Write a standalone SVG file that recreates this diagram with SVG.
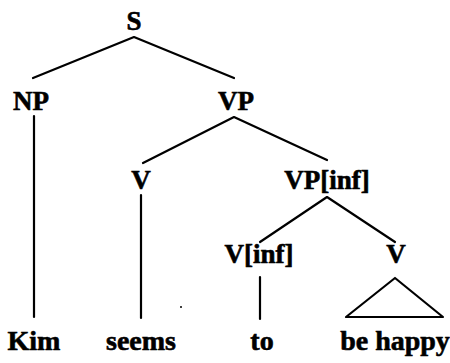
<svg xmlns="http://www.w3.org/2000/svg" width="450" height="363" viewBox="0 0 450 363">
  <style>
    .lbl { font-family: "Liberation Serif", "Times New Roman", serif; font-weight: bold; font-size: 27px; fill: #000; stroke: #000; stroke-width: 0.6; text-anchor: middle; }
    .word { font-family: "Liberation Serif", "Times New Roman", serif; font-weight: bold; font-size: 28px; fill: #000; stroke: #000; stroke-width: 0.6; text-anchor: middle; }
    .edge { stroke: #000; stroke-width: 2.2; fill: none; stroke-linecap: round; stroke-linejoin: round; }
  </style>
  <rect width="450" height="363" fill="#fff"/>

  <!-- tree branches -->
  <g id="connectors">
    <polyline class="edge" points="33,78 134,37 234,78"/>
    <line class="edge" x1="34" y1="116" x2="34" y2="317"/>
    <polyline class="edge" points="143,163 234,117 327,160"/>
    <line class="edge" x1="141" y1="195" x2="141" y2="318"/>
    <polyline class="edge" points="260,242 327,197 395,242"/>
    <line class="edge" x1="260" y1="277" x2="260" y2="319"/>
    <polygon class="edge" points="395,278 346,317 443,317"/>
  </g>

  <!-- category nodes -->
  <g id="node-S"><text class="lbl" x="134" y="30">S</text></g>
  <g id="node-NP"><text class="lbl" x="31" y="110">NP</text></g>
  <g id="node-VP"><text class="lbl" x="236" y="110">VP</text></g>
  <g id="node-V"><text class="lbl" x="141" y="189">V</text></g>
  <g id="node-VPinf"><text class="lbl" x="327" y="189">VP[inf]</text></g>
  <g id="node-Vinf"><text class="lbl" x="259" y="263">V[inf]</text></g>
  <g id="node-V2"><text class="lbl" x="396" y="263">V</text></g>

  <!-- terminal words -->
  <g id="word-Kim"><text class="word" x="34" y="350">Kim</text></g>
  <g id="word-seems"><text class="word" x="141" y="350">seems</text></g>
  <g id="word-to"><text class="word" x="262" y="350">to</text></g>
  <g id="word-behappy"><text class="word" x="395" y="350">be happy</text></g>

  <circle cx="181" cy="307" r="1" fill="#000"/>
</svg>
